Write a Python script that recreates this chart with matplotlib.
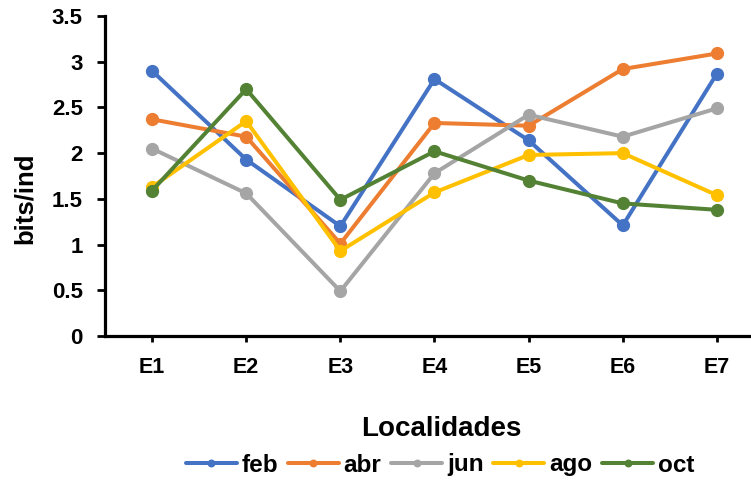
import matplotlib.pyplot as plt

# Índice de diversidad por localidad y mes de muestreo
localidades = ["E1", "E2", "E3", "E4", "E5", "E6", "E7"]
feb = [2.90, 1.93, 1.20, 2.81, 2.14, 1.21, 2.87]
abr = [2.37, 2.18, 1.01, 2.33, 2.30, 2.92, 3.09]
jun = [2.05, 1.56, 0.49, 1.78, 2.42, 2.18, 2.49]
ago = [1.63, 2.35, 0.93, 1.57, 1.98, 2.00, 1.54]
oct_ = [1.59, 2.70, 1.49, 2.02, 1.70, 1.45, 1.38]

series = [
    ("feb", feb, "#4472C4"),
    ("abr", abr, "#ED7D31"),
    ("jun", jun, "#A5A5A5"),
    ("ago", ago, "#FFC000"),
    ("oct", oct_, "#548235"),
]

plt.rcParams['font.family'] = ['Liberation Sans', 'DejaVu Sans']
plt.rcParams['font.weight'] = 'bold'

fig = plt.figure(figsize=(7.51, 4.82), dpi=100)
ax = fig.add_axes([105 / 751, 1 - 336 / 482, 659 / 751, 320 / 482])

x = list(range(len(localidades)))
for nombre, valores, color in series:
    ax.plot(x, valores, color=color, lw=2.9, marker="o", ms=8.5,
            label=nombre, solid_capstyle="round")

ax.set_xlim(-0.5, 6.5)
ax.set_ylim(0, 3.5)
ax.set_xticks(x)
ax.set_xticklabels(localidades)
ax.set_yticks([0, 0.5, 1, 1.5, 2, 2.5, 3, 3.5])
ax.set_yticklabels(["0", "0.5", "1", "1.5", "2", "2.5", "3", "3.5"])

for lado in ["top", "right"]:
    ax.spines[lado].set_visible(False)
for lado in ["left", "bottom"]:
    ax.spines[lado].set_linewidth(2.3)
    ax.spines[lado].set_color("black")

ax.tick_params(axis="y", length=6, width=2, pad=10, labelsize=16)
ax.tick_params(axis="x", length=4, width=2, pad=11, labelsize=15.5)
for t in ax.get_xticklabels() + ax.get_yticklabels():
    t.set_fontweight("bold")

ax.set_ylabel("bits/ind", fontsize=18.5, fontweight="bold")
ax.yaxis.set_label_coords(-0.103, 0.43)
ax.set_xlabel("Localidades", fontsize=20, fontweight="bold")
ax.xaxis.set_label_coords(0.51, -0.25)

fig.legend(loc="center", bbox_to_anchor=(440 / 751, 1 - 465 / 482), ncol=5,
           frameon=False, handlelength=2.1, handletextpad=0.2,
           columnspacing=0.4, markerscale=0.55,
           prop={"weight": "bold", "size": 17.5})

fig.savefig("out.png", dpi=100)
